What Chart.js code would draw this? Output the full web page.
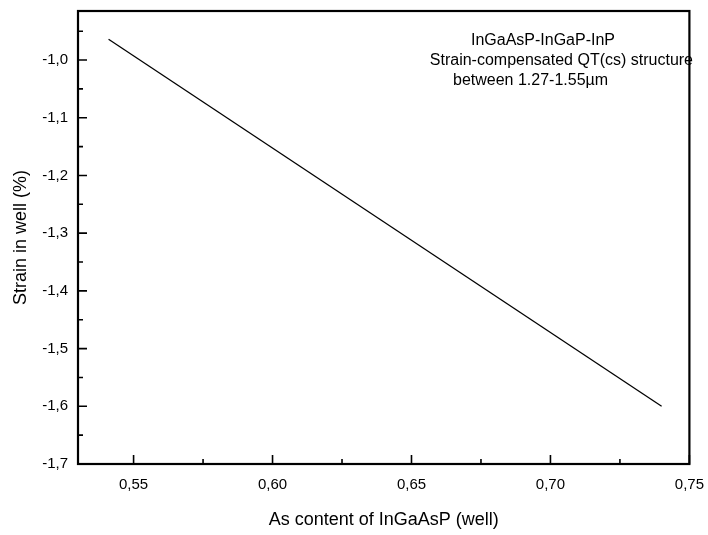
<!DOCTYPE html>
<html>
<head>
<meta charset="utf-8">
<script src="https://cdn.jsdelivr.net/npm/chart.js@4/dist/chart.umd.min.js"></script>
<style>
  html, body { margin: 0; padding: 0; background: #fff; }
  #wrap { width: 708px; height: 535px; }
</style>
</head>
<body>
<div id="wrap"><canvas id="c" width="708" height="535"></canvas></div>
<script>
// ---- data ----
const asContent = [0.541, 0.740];
const strainInWell = [-0.964, -1.600];

const xTicks = [0.55, 0.60, 0.65, 0.70, 0.75];
const xTickLabels = ['0,55', '0,60', '0,65', '0,70', '0,75'];
const xMinorTicks = [0.575, 0.625, 0.675, 0.725];

const yTicks = [-1.7, -1.6, -1.5, -1.4, -1.3, -1.2, -1.1, -1.0];
const yTickLabels = ['-1,7', '-1,6', '-1,5', '-1,4', '-1,3', '-1,2', '-1,1', '-1,0'];
const yMinorTicks = [-1.65, -1.55, -1.45, -1.35, -1.25, -1.15, -1.05, -0.95];

const annotationLines = ['InGaAsP-InGaP-InP', 'Strain-compensated QT(cs) structure', 'between 1.27-1.55\u00b5m'];
const xTitle = 'As content of InGaAsP (well)';
const yTitle = 'Strain in well (%)';

const FONT = '"Liberation Sans", Arial, sans-serif';

const frameAndTicks = {
  id: 'frameAndTicks',
  afterDraw(chart) {
    const ctx = chart.ctx;
    const a = chart.chartArea;
    const xs = chart.scales.x, ys = chart.scales.y;
    ctx.save();
    ctx.strokeStyle = '#000';
    ctx.lineWidth = 2.2;
    ctx.strokeRect(a.left, a.top, a.right - a.left, a.bottom - a.top);
    ctx.lineWidth = 1.6;
    ctx.beginPath();
    xTicks.forEach(v => { const p = xs.getPixelForValue(v); ctx.moveTo(p, a.bottom); ctx.lineTo(p, a.bottom - 9); });
    xMinorTicks.forEach(v => { const p = xs.getPixelForValue(v); ctx.moveTo(p, a.bottom); ctx.lineTo(p, a.bottom - 5); });
    yTicks.forEach(v => { const p = ys.getPixelForValue(v); ctx.moveTo(a.left, p); ctx.lineTo(a.left + 9, p); });
    yMinorTicks.forEach(v => { const p = ys.getPixelForValue(v); ctx.moveTo(a.left, p); ctx.lineTo(a.left + 5, p); });
    ctx.stroke();
    // annotation text
    ctx.fillStyle = '#000';
    ctx.font = '16px ' + FONT;
    ctx.textAlign = 'center';
    ctx.textBaseline = 'middle';
    ctx.fillText(annotationLines[0], 543, 41);
    ctx.textAlign = 'right';
    ctx.fillText(annotationLines[1], 693, 61);
    ctx.textAlign = 'left';
    ctx.fillText(annotationLines[2], 453, 81);
    ctx.restore();
  }
};

new Chart(document.getElementById('c'), {
  type: 'scatter',
  data: {
    datasets: [{
      data: asContent.map((x, i) => ({ x: x, y: strainInWell[i] })),
      showLine: true,
      borderColor: '#000',
      borderWidth: 1.3,
      pointRadius: 0,
      fill: false
    }]
  },
  options: {
    responsive: false,
    animation: false,
    devicePixelRatio: 1,
    layout: { padding: { top: 10, right: 18, left: 0, bottom: 0 } },
    plugins: { legend: { display: false }, tooltip: { enabled: false } },
    scales: {
      x: {
        type: 'linear',
        min: 0.530,
        max: 0.75,
        afterBuildTicks(s) { s.ticks = xTicks.map(v => ({ value: v })); },
        afterFit(s) { s.height = 71; },
        grid: { display: false },
        border: { display: true, color: '#000', width: 2 },
        ticks: {
          autoSkip: false,
          maxRotation: 0,
          padding: 4,
          color: '#000',
          font: { family: FONT, size: 15 },
          callback(v) { const i = xTicks.findIndex(t => Math.abs(t - v) < 1e-9); return i >= 0 ? xTickLabels[i] : ''; }
        },
        title: { display: true, text: xTitle, color: '#000', font: { family: FONT, size: 18 }, padding: { top: 10 } }
      },
      y: {
        type: 'linear',
        min: -1.7,
        max: -0.915,
        afterBuildTicks(s) { s.ticks = yTicks.map(v => ({ value: v })); },
        afterFit(s) { s.width = 78; },
        grid: { display: false },
        border: { display: true, color: '#000', width: 2 },
        ticks: {
          autoSkip: false,
          padding: 2,
          color: '#000',
          font: { family: FONT, size: 15 },
          callback(v) { const i = yTicks.findIndex(t => Math.abs(t - v) < 1e-9); return i >= 0 ? yTickLabels[i] : ''; }
        },
        title: { display: true, text: yTitle, color: '#000', font: { family: FONT, size: 18 }, padding: { top: 10, bottom: 2 } }
      }
    }
  },
  plugins: [frameAndTicks]
});
</script>
</body>
</html>
